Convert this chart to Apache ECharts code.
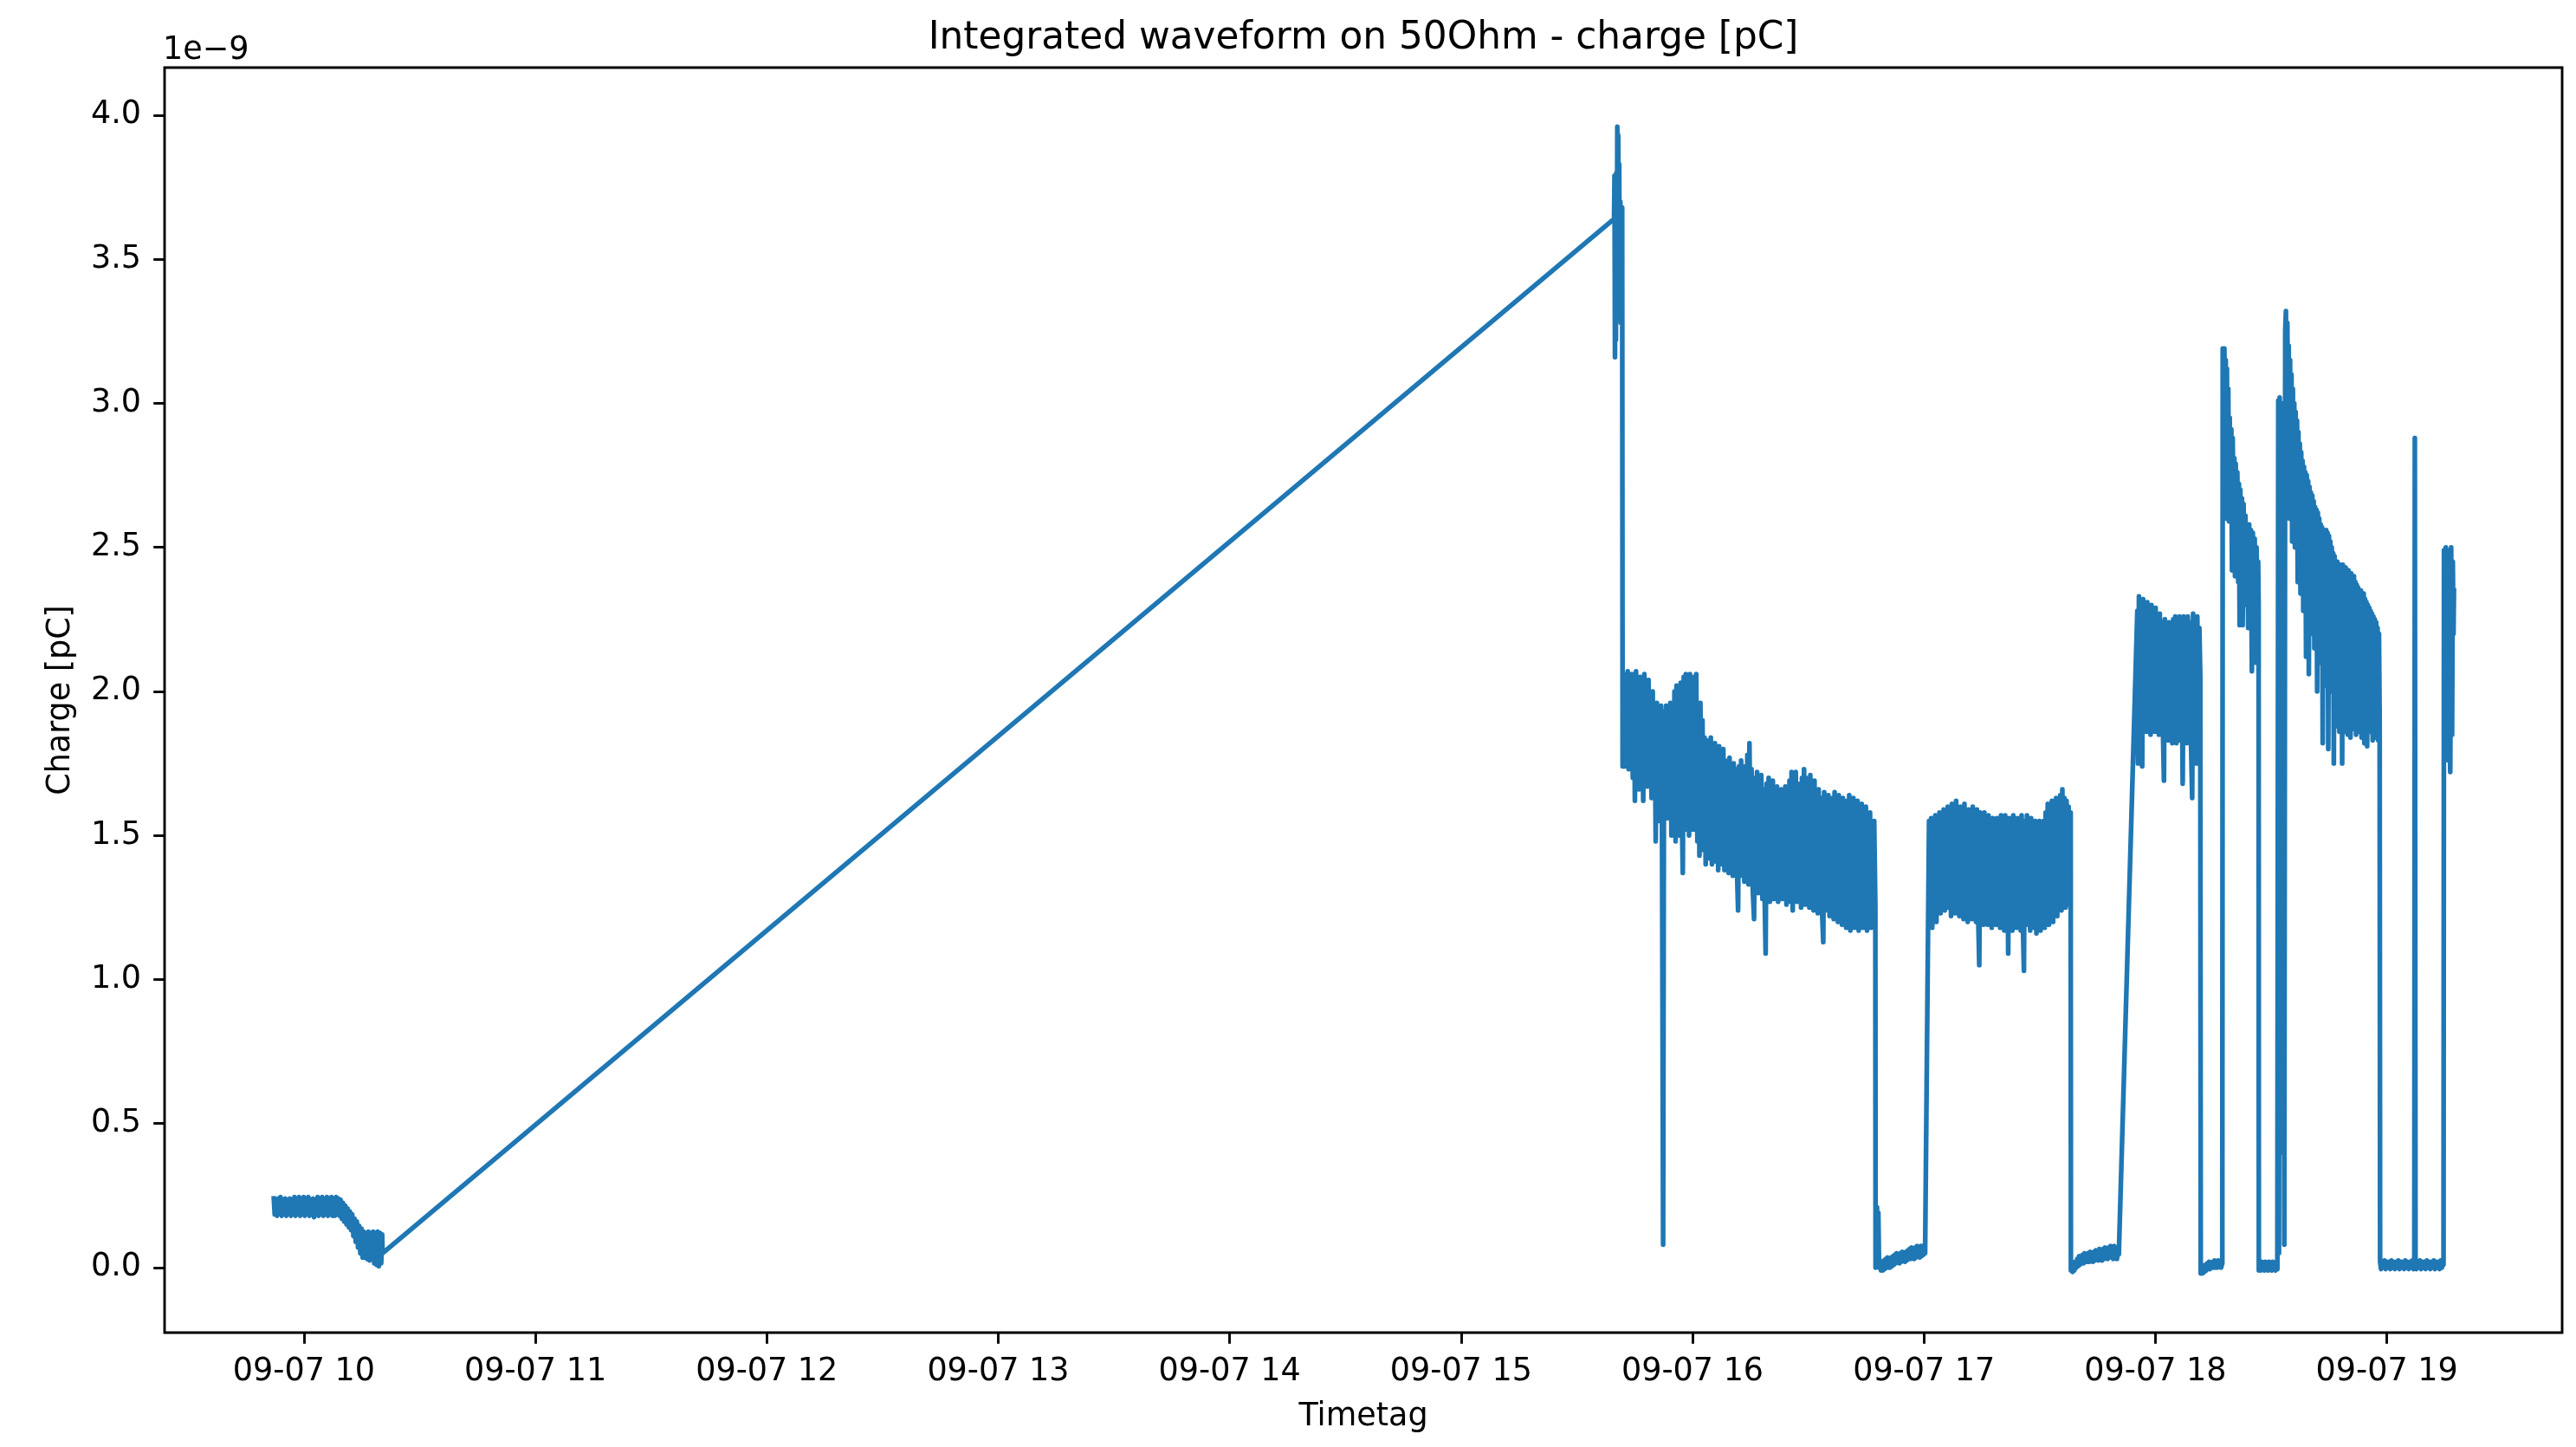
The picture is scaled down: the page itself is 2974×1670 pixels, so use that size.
<!DOCTYPE html>
<html>
<head>
<meta charset="utf-8">
<script src="https://cdn.jsdelivr.net/npm/echarts@6/dist/echarts.min.js"></script>
<style>
  html, body { margin: 0; padding: 0; background: #ffffff; }
  #chart { width: 2974px; height: 1670px; }
</style>
</head>
<body>
<div id="chart"></div>
<script>
// Integrated waveform charge on 50 Ohm, 7 September.
// Each entry is [time of day in hours, charge in units of 1e-9].

const hourTicks = [10, 11, 12, 13, 14, 15, 16, 17, 18, 19];
const chargeTicks = [0, 0.5, 1.0, 1.5, 2.0, 2.5, 3.0, 3.5, 4.0];

// morning baseline run
const baselineRun = [
  [9.870,0.24],[9.874,0.185],[9.879,0.235],[9.884,0.18],[9.889,0.24],[9.894,0.19],[9.899,0.245],[9.904,0.18],
  [9.909,0.235],[9.914,0.185],[9.919,0.24],[9.924,0.18],[9.929,0.235],[9.934,0.19],[9.939,0.24],[9.944,0.18],
  [9.949,0.235],[9.954,0.185],[9.959,0.245],[9.964,0.18],[9.969,0.24],[9.974,0.19],[9.979,0.245],[9.984,0.18],
  [9.989,0.235],[9.994,0.185],[9.999,0.245],[10.004,0.18],[10.009,0.24],[10.014,0.19],[10.019,0.245],[10.024,0.18],
  [10.029,0.235],[10.034,0.185],[10.039,0.24],[10.044,0.175],[10.049,0.235],[10.054,0.185],[10.059,0.245],[10.064,0.18],
  [10.069,0.24],[10.074,0.185],[10.079,0.245],[10.084,0.18],[10.089,0.235],[10.094,0.185],[10.099,0.245],[10.104,0.18],
  [10.109,0.24],[10.114,0.185],[10.119,0.245],[10.124,0.18],[10.129,0.24],[10.134,0.18],[10.139,0.245],[10.144,0.185],
  [10.149,0.24],[10.154,0.18],[10.159,0.235],[10.164,0.17],[10.169,0.225],[10.174,0.16],[10.179,0.215],[10.184,0.15],
  [10.189,0.205],[10.194,0.14],[10.199,0.195],[10.204,0.13],[10.209,0.185],[10.214,0.11],[10.219,0.17],[10.224,0.09],
  [10.229,0.16],[10.234,0.07],[10.239,0.145],[10.244,0.05],[10.249,0.135],[10.254,0.035],[10.259,0.125],[10.264,0.035],
  [10.269,0.115],[10.274,0.03],[10.279,0.125],[10.284,0.025],[10.289,0.105],[10.294,0.035],[10.299,0.125],[10.304,0.015],
  [10.309,0.12],[10.314,0.01],[10.319,0.125],[10.324,0.005],[10.329,0.12],[10.334,0.015],[10.338,0.115],[10.340,0.05]
];

// afternoon start: burst after the long gap
const startBurst = [
  [15.661,3.64],[15.663,3.79],[15.665,3.16],[15.667,3.72],[15.669,3.22],[15.671,3.80],[15.673,3.30],[15.675,3.96],
  [15.677,3.45],[15.679,3.93],[15.681,3.35],[15.683,3.83],[15.685,3.50],[15.688,3.70],[15.690,3.28],[15.692,3.62],
  [15.694,3.40],[15.696,3.68],[15.698,1.74]
];

// first long run
const run1 = [
  [15.702,2.06],[15.706,1.74],[15.711,2.02],[15.715,1.76],[15.720,2.07],[15.724,1.73],[15.729,1.98],[15.733,1.78],
  [15.738,2.06],[15.742,1.70],[15.747,2.03],[15.751,1.62],[15.756,2.07],[15.760,1.72],[15.765,1.99],[15.769,1.66],
  [15.774,2.05],[15.778,1.74],[15.783,2.02],[15.787,1.62],[15.792,2.06],[15.796,1.70],[15.801,1.97],[15.805,1.67],
  [15.810,2.04],[15.814,1.72],[15.819,1.95],[15.823,1.63],[15.828,2.0],[15.832,1.70],[15.837,1.92],[15.841,1.48],
  [15.846,1.96],[15.850,1.60],[15.855,1.90],[15.859,1.55],[15.864,1.95],[15.868,1.60],[15.873,0.08],[15.877,1.93],
  [15.882,1.58],[15.886,1.95],[15.891,1.56],[15.895,1.90],[15.900,1.60],[15.904,1.96],[15.909,1.50],[15.913,1.92],
  [15.918,1.56],[15.922,2.00],[15.927,1.48],[15.931,2.02],[15.936,1.55],[15.940,1.98],[15.945,1.50],[15.949,2.03],
  [15.954,1.58],[15.958,1.37],[15.962,2.05],[15.967,1.52],[15.971,2.06],[15.976,1.55],[15.980,2.04],[15.985,1.50],
  [15.989,2.06],[15.994,1.56],[15.998,2.0],[16.003,1.52],[16.007,2.05],[16.012,1.56],[16.016,2.06],[16.021,1.48],
  [16.025,1.95],[16.030,1.43],[16.034,1.96],[16.039,1.50],[16.043,1.90],[16.048,1.45],[16.052,1.84],[16.057,1.40],
  [16.061,1.83],[16.066,1.47],[16.070,1.80],[16.075,1.42],[16.079,1.84],[16.084,1.40],[16.088,1.79],[16.093,1.46],
  [16.097,1.82],[16.102,1.41],[16.106,1.78],[16.111,1.38],[16.115,1.81],[16.120,1.45],[16.124,1.76],[16.129,1.40],
  [16.133,1.80],[16.138,1.38],[16.142,1.76],[16.147,1.43],[16.151,1.74],[16.156,1.37],[16.160,1.77],[16.165,1.41],
  [16.169,1.72],[16.174,1.36],[16.178,1.75],[16.183,1.40],[16.187,1.73],[16.192,1.38],[16.197,1.24],[16.201,1.74],
  [16.206,1.36],[16.210,1.76],[16.215,1.40],[16.219,1.71],[16.224,1.34],[16.228,1.74],[16.233,1.38],[16.237,1.78],
  [16.242,1.33],[16.246,1.82],[16.251,1.37],[16.255,1.73],[16.260,1.32],[16.266,1.21],[16.270,1.70],[16.275,1.35],
  [16.279,1.72],[16.284,1.30],[16.288,1.69],[16.293,1.33],[16.297,1.71],[16.302,1.28],[16.306,1.66],[16.311,1.32],
  [16.316,1.09],[16.320,1.68],[16.325,1.30],[16.329,1.70],[16.334,1.27],[16.338,1.66],[16.343,1.31],[16.347,1.69],
  [16.352,1.28],[16.356,1.65],[16.361,1.30],[16.365,1.67],[16.370,1.27],[16.374,1.64],[16.379,1.31],[16.383,1.66],
  [16.388,1.28],[16.392,1.63],[16.397,1.30],[16.401,1.67],[16.406,1.26],[16.410,1.65],[16.415,1.29],[16.419,1.69],
  [16.424,1.27],[16.428,1.72],[16.433,1.24],[16.437,1.70],[16.442,1.29],[16.446,1.72],[16.451,1.27],[16.455,1.68],
  [16.460,1.30],[16.464,1.66],[16.469,1.25],[16.473,1.70],[16.478,1.28],[16.482,1.73],[16.487,1.26],[16.491,1.70],
  [16.496,1.29],[16.500,1.68],[16.505,1.25],[16.509,1.71],[16.514,1.28],[16.518,1.66],[16.523,1.24],[16.527,1.69],
  [16.532,1.27],[16.536,1.64],[16.541,1.23],[16.545,1.66],[16.550,1.28],[16.554,1.63],[16.559,1.25],[16.565,1.13],
  [16.569,1.65],[16.574,1.24],[16.578,1.62],[16.583,1.27],[16.587,1.64],[16.592,1.22],[16.596,1.61],[16.601,1.26],
  [16.605,1.63],[16.610,1.21],[16.614,1.65],[16.619,1.25],[16.623,1.62],[16.628,1.20],[16.632,1.64],[16.637,1.24],
  [16.641,1.61],[16.646,1.19],[16.650,1.63],[16.655,1.23],[16.659,1.60],[16.664,1.18],[16.668,1.62],[16.673,1.22],
  [16.677,1.64],[16.682,1.17],[16.686,1.61],[16.691,1.21],[16.695,1.63],[16.700,1.18],[16.704,1.60],[16.709,1.22],
  [16.713,1.62],[16.718,1.17],[16.722,1.59],[16.727,1.21],[16.731,1.61],[16.736,1.18],[16.740,1.57],[16.745,1.20],
  [16.749,1.60],[16.754,1.17],[16.758,1.56],[16.763,1.22],[16.767,1.58],[16.772,1.18],[16.776,1.53],[16.781,1.20],
  [16.785,1.55],[16.790,1.25]
];

const gap1 = [
  [16.791,0.0],[16.794,0.01],[16.797,0.21],[16.800,0.02],[16.803,0.19],[16.806,0.0],[16.810,0.02],[16.814,-0.01],
  [16.818,0.02],[16.822,-0.01],[16.826,0.025],[16.830,-0.005],[16.834,0.03],[16.838,0.0],[16.842,0.035],[16.846,0.0],
  [16.850,0.03],[16.854,0.0],[16.858,0.035],[16.862,0.005],[16.866,0.04],[16.870,0.01],[16.874,0.045],[16.878,0.015],
  [16.882,0.05],[16.886,0.02],[16.890,0.045],[16.894,0.015],[16.898,0.05],[16.902,0.02],[16.906,0.055],[16.910,0.025],
  [16.914,0.05],[16.918,0.02],[16.922,0.055],[16.926,0.025],[16.930,0.06],[16.934,0.03],[16.938,0.065],[16.942,0.03],
  [16.946,0.07],[16.950,0.035],[16.954,0.065],[16.958,0.03],[16.962,0.07],[16.966,0.035],[16.970,0.075],[16.974,0.04],
  [16.978,0.07],[16.982,0.035],[16.986,0.075],[16.990,0.04],[16.994,0.075],[16.998,0.045],[17.002,0.07],[17.005,0.05]
];

const run2 = [
  [17.022,1.55],[17.027,1.20],[17.031,1.56],[17.036,1.18],[17.040,1.55],[17.045,1.24],[17.049,1.57],[17.054,1.20],
  [17.058,1.54],[17.063,1.26],[17.067,1.58],[17.072,1.23],[17.076,1.55],[17.081,1.27],[17.085,1.59],[17.090,1.24],
  [17.094,1.56],[17.099,1.28],[17.103,1.60],[17.108,1.25],[17.112,1.57],[17.117,1.22],[17.121,1.61],[17.126,1.27],
  [17.130,1.58],[17.135,1.23],[17.139,1.62],[17.144,1.26],[17.148,1.58],[17.153,1.22],[17.157,1.60],[17.162,1.27],
  [17.166,1.57],[17.171,1.21],[17.175,1.61],[17.180,1.25],[17.184,1.58],[17.189,1.20],[17.193,1.59],[17.198,1.24],
  [17.202,1.56],[17.207,1.21],[17.211,1.60],[17.216,1.25],[17.220,1.57],[17.225,1.20],[17.229,1.59],[17.234,1.23],
  [17.239,1.05],[17.243,1.58],[17.248,1.22],[17.252,1.56],[17.257,1.19],[17.261,1.58],[17.266,1.23],[17.270,1.55],
  [17.275,1.19],[17.279,1.57],[17.284,1.22],[17.288,1.54],[17.293,1.18],[17.297,1.56],[17.302,1.21],[17.306,1.53],
  [17.311,1.19],[17.315,1.56],[17.320,1.22],[17.324,1.54],[17.329,1.18],[17.333,1.57],[17.338,1.21],[17.342,1.55],
  [17.347,1.17],[17.351,1.57],[17.356,1.22],[17.360,1.54],[17.364,1.09],[17.368,1.56],[17.373,1.20],[17.377,1.53],
  [17.382,1.17],[17.386,1.57],[17.391,1.21],[17.395,1.54],[17.400,1.18],[17.404,1.56],[17.409,1.22],[17.413,1.55],
  [17.418,1.17],[17.422,1.57],[17.427,1.21],[17.432,1.03],[17.436,1.55],[17.441,1.19],[17.445,1.57],[17.450,1.22],
  [17.454,1.54],[17.459,1.17],[17.463,1.56],[17.468,1.21],[17.472,1.53],[17.477,1.18],[17.481,1.55],[17.486,1.16],
  [17.490,1.53],[17.495,1.20],[17.499,1.55],[17.504,1.17],[17.508,1.52],[17.513,1.21],[17.517,1.55],[17.522,1.18],
  [17.526,1.58],[17.531,1.21],[17.535,1.61],[17.540,1.19],[17.544,1.58],[17.549,1.24],[17.553,1.62],[17.558,1.20],
  [17.562,1.59],[17.567,1.25],[17.571,1.63],[17.576,1.22],[17.580,1.60],[17.585,1.26],[17.589,1.64],[17.594,1.24],
  [17.598,1.66],[17.603,1.27],[17.607,1.63],[17.612,1.25],[17.616,1.62],[17.621,1.29],[17.625,1.60],[17.630,1.26],
  [17.634,1.58]
];

const gap2 = [
  [17.635,-0.01],[17.638,0.015],[17.642,-0.015],[17.646,0.01],[17.650,-0.01],[17.654,0.02],[17.658,0.0],[17.662,0.03],
  [17.666,0.005],[17.670,0.04],[17.674,0.01],[17.678,0.04],[17.682,0.015],[17.686,0.045],[17.690,0.015],[17.694,0.05],
  [17.698,0.02],[17.702,0.045],[17.706,0.02],[17.710,0.05],[17.714,0.02],[17.718,0.055],[17.722,0.025],[17.726,0.05],
  [17.730,0.02],[17.734,0.055],[17.738,0.025],[17.742,0.06],[17.746,0.03],[17.750,0.055],[17.754,0.025],[17.758,0.065],
  [17.762,0.03],[17.766,0.06],[17.770,0.025],[17.774,0.065],[17.778,0.03],[17.782,0.07],[17.786,0.035],[17.790,0.065],
  [17.794,0.03],[17.798,0.07],[17.802,0.035],[17.806,0.075],[17.810,0.035],[17.814,0.07],[17.818,0.03],[17.822,0.075],
  [17.826,0.035],[17.830,0.07],[17.834,0.03],[17.838,0.07],[17.842,0.045]
];

const run3 = [
  [17.922,2.28],[17.925,1.75],[17.929,2.33],[17.934,1.82],[17.938,2.30],[17.943,1.74],[17.947,2.32],[17.952,1.90],
  [17.956,2.29],[17.961,1.86],[17.965,2.31],[17.970,1.91],[17.974,2.28],[17.979,1.85],[17.983,2.30],[17.988,1.90],
  [17.992,2.26],[17.997,1.86],[18.001,2.29],[18.006,1.91],[18.010,2.25],[18.015,1.85],[18.019,2.27],[18.024,1.89],
  [18.028,2.24],[18.033,1.85],[18.037,1.69],[18.041,2.25],[18.046,1.86],[18.050,2.22],[18.055,1.83],[18.059,2.24],
  [18.064,1.88],[18.068,2.21],[18.073,1.82],[18.077,2.25],[18.082,1.87],[18.086,2.26],[18.091,1.82],[18.095,2.23],
  [18.100,1.86],[18.104,2.26],[18.109,1.83],[18.113,2.22],[18.118,1.68],[18.122,2.26],[18.127,1.85],[18.131,2.23],
  [18.136,1.82],[18.140,2.26],[18.145,1.87],[18.149,2.24],[18.154,1.82],[18.159,1.63],[18.163,2.27],[18.168,1.85],
  [18.172,2.24],[18.177,1.75],[18.181,2.26],[18.186,1.88],[18.190,2.22],[18.194,2.05]
];

const gap3 = [
  [18.196,-0.02],[18.200,0.01],[18.204,-0.02],[18.208,0.005],[18.212,-0.015],[18.216,0.01],[18.220,-0.01],[18.224,0.015],
  [18.228,-0.005],[18.232,0.02],[18.236,-0.005],[18.240,0.015],[18.244,0.0],[18.248,0.02],[18.252,0.0],[18.256,0.025],
  [18.260,0.0],[18.264,0.02],[18.268,0.0],[18.272,0.025],[18.276,0.005],[18.280,0.02],[18.284,0.0],[18.289,0.015]
];

const decay1 = [
  [18.291,3.19],[18.295,3.10],[18.298,3.19],[18.301,2.99],[18.304,3.15],[18.306,2.60],[18.309,3.12],[18.312,2.70],
  [18.315,3.05],[18.318,2.59],[18.321,2.95],[18.325,2.62],[18.328,2.91],[18.331,2.42],[18.334,2.88],[18.338,2.55],
  [18.341,2.81],[18.344,2.40],[18.347,2.79],[18.351,2.50],[18.354,2.76],[18.358,2.38],[18.361,2.72],[18.364,2.23],
  [18.367,2.70],[18.371,2.45],[18.374,2.67],[18.377,2.23],[18.381,2.65],[18.385,2.40],[18.389,2.61],[18.393,2.30],
  [18.397,2.58],[18.401,2.22],[18.405,2.58],[18.409,2.35],[18.413,2.56],[18.417,2.07],[18.421,2.55],[18.425,2.30],
  [18.429,2.53],[18.433,2.10],[18.437,2.50],[18.441,2.22],[18.444,2.45],[18.446,2.30]
];

const gap4 = [
  [18.447,-0.01],[18.451,0.015],[18.455,-0.01],[18.459,0.02],[18.463,-0.005],[18.467,0.015],[18.471,-0.01],[18.475,0.02],
  [18.479,0.0],[18.483,0.015],[18.487,-0.01],[18.491,0.02],[18.495,-0.005],[18.499,0.015],[18.503,-0.01],[18.507,0.02],
  [18.511,0.0],[18.515,0.015],[18.519,-0.01],[18.523,0.02],[18.527,-0.005],[18.529,0.0]
];

const doubleSpike = [
  [18.531,3.01],[18.534,0.05],[18.537,3.02],[18.541,2.85],[18.545,3.00],[18.549,0.40],[18.553,2.90],[18.557,0.08],
  [18.561,3.25]
];

const decay2 = [
  [18.564,3.32],[18.567,2.86],[18.570,3.28],[18.573,2.95],[18.576,3.20],[18.579,2.60],[18.582,3.15],[18.585,2.75],
  [18.588,3.10],[18.591,2.52],[18.594,3.05],[18.597,2.62],[18.600,3.00],[18.603,2.50],[18.606,2.97],[18.609,2.55],
  [18.612,2.94],[18.615,2.38],[18.618,2.90],[18.621,2.45],[18.624,2.86],[18.627,2.34],[18.630,2.83],[18.633,2.36],
  [18.636,2.80],[18.639,2.28],[18.642,2.78],[18.645,2.33],[18.648,2.76],[18.651,2.12],[18.654,2.75],[18.657,2.30],
  [18.660,2.73],[18.663,2.06],[18.666,2.71],[18.669,2.28],[18.672,2.69],[18.675,2.20],[18.678,2.68],[18.681,2.26],
  [18.684,2.66],[18.687,2.15],[18.690,2.64],[18.693,2.22],[18.696,2.63],[18.699,2.00],[18.702,2.62],[18.705,2.20],
  [18.708,2.60],[18.711,2.10],[18.714,2.58],[18.717,2.18],[18.720,2.57],[18.723,1.82],[18.726,2.56],[18.729,2.15],
  [18.732,2.55],[18.735,2.02],[18.738,2.56],[18.741,2.12],[18.744,2.55],[18.747,1.80],[18.750,2.54],[18.753,2.10],
  [18.756,2.52],[18.759,2.00],[18.762,2.50],[18.765,2.08],[18.768,2.48],[18.771,1.75],[18.774,2.47],[18.777,2.05],
  [18.780,2.45],[18.783,1.88],[18.786,2.45],[18.789,2.02],[18.792,2.44],[18.795,1.86],[18.798,2.44],[18.801,2.04],
  [18.804,2.43],[18.807,1.75],[18.810,2.44],[18.813,2.02],[18.816,2.42],[18.819,1.86],[18.822,2.43],[18.825,1.98],
  [18.828,2.41],[18.831,1.85],[18.834,2.42],[18.837,2.00],[18.840,2.40],[18.843,1.84],[18.846,2.41],[18.849,1.97],
  [18.852,2.39],[18.855,1.87],[18.858,2.40],[18.861,1.98],[18.864,2.38],[18.867,1.85],[18.870,2.37],[18.873,1.97],
  [18.876,2.36],[18.879,1.86],[18.882,2.35],[18.885,1.96],[18.888,2.35],[18.891,1.84],[18.894,2.33],[18.897,1.95],
  [18.900,2.34],[18.903,1.82],[18.906,2.32],[18.909,1.94],[18.912,2.31],[18.915,1.81],[18.918,2.30],[18.921,1.93],
  [18.924,2.29],[18.927,1.86],[18.930,2.28],[18.933,1.94],[18.936,2.27],[18.939,1.83],[18.942,2.26],[18.945,1.92],
  [18.948,2.25],[18.951,1.84],[18.954,2.24],[18.957,1.91],[18.960,2.22],[18.963,1.83],[18.966,2.20],[18.969,1.90]
];

const gap5 = [
  [18.971,0.02],[18.975,-0.005],[18.980,0.02],[18.985,0.0],[18.990,0.025],[18.995,-0.005],[19.000,0.02],[19.005,0.0],
  [19.010,0.02],[19.015,-0.005],[19.020,0.025],[19.025,0.0],[19.030,0.02],[19.035,-0.005],[19.040,0.02],[19.045,0.0],
  [19.050,0.025],[19.055,-0.005],[19.060,0.02],[19.065,0.0],[19.070,0.02],[19.075,-0.005],[19.080,0.025],[19.085,0.0],
  [19.090,0.02],[19.095,-0.005],[19.100,0.02],[19.105,0.0],[19.110,0.025],[19.115,-0.005],[19.119,0.01],[19.121,2.88],
  [19.124,0.02],[19.128,-0.005],[19.133,0.02],[19.138,0.0],[19.143,0.025],[19.148,-0.005],[19.153,0.02],[19.158,0.0],
  [19.163,0.02],[19.168,-0.005],[19.173,0.025],[19.178,0.0],[19.183,0.02],[19.188,-0.005],[19.193,0.02],[19.198,0.0],
  [19.203,0.025],[19.208,-0.005],[19.213,0.02],[19.218,0.0],[19.223,0.02],[19.228,-0.005],[19.233,0.025],[19.238,0.0],
  [19.243,0.02],[19.245,0.01]
];

const lastRun = [
  [19.247,2.49],[19.251,2.30],[19.255,2.50],[19.259,2.20],[19.263,2.49],[19.266,1.76],[19.270,2.48],[19.274,1.72],
  [19.278,2.50],[19.282,1.85],[19.285,2.45],[19.288,2.20],[19.290,2.35]
];

const chargeSeries = [].concat(
  baselineRun, startBurst, run1, gap1, run2, gap2, run3, gap3,
  decay1, gap4, doubleSpike, decay2, gap5, lastRun
);

const FONT = '"DejaVu Sans", "Liberation Sans", sans-serif';
const INK = '#000000';
const LINE_BLUE = '#1f77b4';

const chart = echarts.init(document.getElementById('chart'), null, { renderer: 'canvas' });

chart.setOption({
  animation: false,
  backgroundColor: '#ffffff',
  grid: {
    left: 190, top: 78, width: 2768, height: 1460,
    show: true, borderColor: INK, borderWidth: 2.9, backgroundColor: '#ffffff',
    containLabel: false
  },
  xAxis: {
    type: 'value',
    position: 'bottom',
    min: 9.398, max: 19.7575,
    axisLine: { show: false, onZero: false },
    splitLine: { show: false },
    axisTick: {
      show: true, inside: false, length: 12.8,
      customValues: hourTicks,
      lineStyle: { color: INK, width: 2.9 }
    },
    axisLabel: {
      show: true, customValues: hourTicks,
      color: INK, fontFamily: FONT, fontSize: 36.5, lineHeight: 36.5, margin: 27,
      formatter: v => '09-07 ' + v
    }
  },
  yAxis: {
    type: 'value',
    position: 'left',
    min: -0.2256, max: 4.1654,
    axisLine: { show: false, onZero: false },
    splitLine: { show: false },
    axisTick: {
      show: true, inside: false, length: 12.8,
      customValues: chargeTicks,
      lineStyle: { color: INK, width: 2.9 }
    },
    axisLabel: {
      show: true, customValues: chargeTicks,
      color: INK, fontFamily: FONT, fontSize: 36.5, lineHeight: 36.5, margin: 27,
      padding: [9, 0, 0, 0],
      formatter: v => v.toFixed(1)
    }
  },
  series: [{
    type: 'line',
    data: chargeSeries,
    showSymbol: false,
    symbol: 'none',
    clip: true,
    lineStyle: { color: LINE_BLUE, width: 5.5, cap: 'square', join: 'round' },
    emphasis: { disabled: true }
  }],
  graphic: [
    { type: 'text', x: 1574, y: 45,
      style: { text: 'Integrated waveform on 50Ohm - charge [pC]', fill: INK,
               font: '43.8px ' + FONT, align: 'center', verticalAlign: 'middle' } },
    { type: 'text', x: 1574, y: 1636,
      style: { text: 'Timetag', fill: INK,
               font: '36.5px ' + FONT, align: 'center', verticalAlign: 'middle' } },
    { type: 'text', x: 71, y: 808, rotation: Math.PI / 2,
      style: { text: 'Charge [pC]', fill: INK,
               font: '36.5px ' + FONT, align: 'center', verticalAlign: 'middle' } },
    { type: 'text', x: 188, y: 59,
      style: { text: '1e\u22129', fill: INK,
               font: '36.5px ' + FONT, align: 'left', verticalAlign: 'middle' } }
  ]
});
</script>
</body>
</html>
